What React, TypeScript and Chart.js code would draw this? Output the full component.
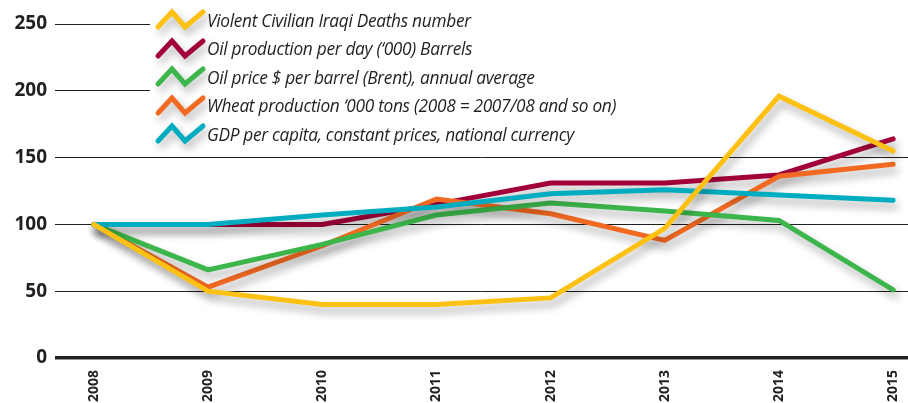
import React, { useEffect, useRef } from "react";
import { Chart, registerables } from "chart.js";

Chart.register(...registerables);

const years = [2008, 2009, 2010, 2011, 2012, 2013, 2014, 2015];
const yTicks = [0, 50, 100, 150, 200, 250];

const deaths = [100, 50, 40, 40, 45, 97, 196, 155];
const oilProduction = [100, 100, 100, 115, 131, 131, 137, 164];
const oilPrice = [100, 66, 85, 107, 116, 110, 103, 51];
const wheat = [100, 53, 84, 119, 108, 88, 136, 145];
const gdp = [100, 100, 107, 113, 123, 126, 122, 118];

const seriesLabels = [
  "Violent Civilian Iraqi Deaths number",
  "Oil production per day (‘000) Barrels",
  "Oil price $ per barrel (Brent), annual average",
  "Wheat production ‘000 tons (2008 = 2007/08 and so on)",
  "GDP per capita, constant prices, national currency",
];
const seriesColors = ["#fdc113", "#a2003a", "#3cb54a", "#f26a22", "#00acbf"];
const seriesValues = [deaths, oilProduction, oilPrice, wheat, gdp];
// top to bottom drawing order
const drawOrder = [0, 4, 2, 3, 1];

const legendBackPlugin = {
  id: "legendBack",
  beforeDatasetsDraw(chart: any) {
    const ctx = chart.ctx;
    ctx.save();
    ctx.fillStyle = "#fff";
    ctx.fillRect(150, 0, chart.width - 150, 148);
    ctx.restore();
  },
};

const shadowPlugin = {
  id: "lineShadow",
  beforeDatasetDraw(chart: any) {
    const ctx = chart.ctx;
    ctx.save();
    ctx.shadowColor = "rgba(0,0,0,0.32)";
    ctx.shadowBlur = 9;
    ctx.shadowOffsetX = 3;
    ctx.shadowOffsetY = 6;
  },
  afterDatasetDraw(chart: any) {
    chart.ctx.restore();
  },
};

function Zigzag({ color }: { color: string }) {
  return (
    <svg
      width={52}
      height={24}
      viewBox="0 0 52 24"
      style={{ display: "block", overflow: "visible", filter: "drop-shadow(3px 5px 4px rgba(0,0,0,0.3))" }}
    >
      <polyline
        points="3,19 17,4 30,19 48,4"
        fill="none"
        stroke={color}
        strokeWidth={5}
        strokeLinecap="round"
        strokeLinejoin="miter"
      />
    </svg>
  );
}

export default function App() {
  const canvasRef = useRef<HTMLCanvasElement | null>(null);

  useEffect(() => {
    document.body.style.margin = "0";
    const canvas = canvasRef.current;
    if (!canvas) return;
    const datasets = drawOrder.map((i) => ({
      label: seriesLabels[i],
      data: years.map((y, k) => ({ x: y, y: seriesValues[i][k] })),
      borderColor: seriesColors[i],
      backgroundColor: seriesColors[i],
      borderWidth: 5,
      pointRadius: 0,
      tension: 0,
      borderJoinStyle: "miter" as const,
      borderCapStyle: "round" as const,
    }));
    const chart = new Chart(canvas, {
      type: "line",
      data: { datasets },
      plugins: [legendBackPlugin, shadowPlugin],
      options: {
        animation: false,
        responsive: false,
        maintainAspectRatio: false,
        layout: { padding: { top: 24, right: 0, left: 0, bottom: 0 } },
        plugins: { legend: { display: false }, tooltip: { enabled: false } },
        scales: {
          x: {
            type: "linear",
            min: 2007.66,
            max: 2015.13,
            grid: { display: false },
            border: { display: false },
            afterBuildTicks: (scale: any) => {
              scale.ticks = years.map((v) => ({ value: v }));
            },
            afterFit: (scale: any) => {
              scale.height = 45;
              scale.paddingLeft = 0;
              scale.paddingRight = 0;
            },
            ticks: {
              autoSkip: false,
              minRotation: 90,
              maxRotation: 90,
              padding: 4,
              color: "#231f20",
              font: { family: "'Open Sans'", weight: "bold", size: 14 },
              callback: (v: any) => String(v),
            },
          },
          y: {
            min: 0,
            max: 250,
            afterBuildTicks: (scale: any) => {
              scale.ticks = yTicks.map((v) => ({ value: v }));
            },
            afterFit: (scale: any) => {
              scale.width = 55;
            },
            border: { display: false },
            grid: {
              drawTicks: false,
              color: "#231f20",
              lineWidth: (c: any) => (c.tick && c.tick.value === 0 ? 3.5 : 1),
            },
            ticks: {
              padding: 8,
              color: "#231f20",
              font: { family: "'Open Sans'", weight: "bold", size: 19 },
            },
          },
        },
      },
    });
    return () => chart.destroy();
  }, []);

  return (
    <div style={{ position: "relative", width: 908, height: 403, background: "#fff" }}>
      <canvas ref={canvasRef} width={908} height={403} style={{ display: "block" }} />
      <div
        style={{
          position: "absolute",
          left: 150,
          top: 0,
          width: 758,
          height: 148,
          pointerEvents: "none",
        }}
      >
        {seriesLabels.map((label, i) => (
          <div
            key={label}
            style={{
              position: "absolute",
              left: 5,
              top: 8 + i * 28.6,
              height: 24,
              display: "flex",
              alignItems: "center",
              whiteSpace: "nowrap",
            }}
          >
            <Zigzag color={seriesColors[i]} />
            <span
              style={{
                marginLeft: 0,
                fontFamily: "'Open Sans'",
                fontStyle: "italic",
                fontSize: 17.3,
                color: "#231f20",
                letterSpacing: -0.3,
              }}
            >
              {label}
            </span>
          </div>
        ))}
      </div>
    </div>
  );
}
